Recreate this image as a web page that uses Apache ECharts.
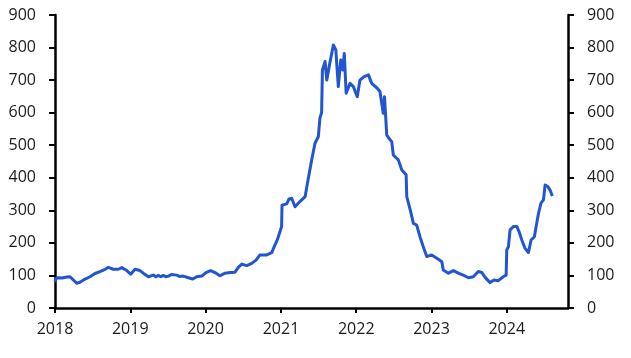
<!DOCTYPE html>
<html>
<head>
<meta charset="utf-8">
<script src="https://cdn.jsdelivr.net/npm/echarts@6/dist/echarts.min.js"></script>
<style>html,body{margin:0;padding:0;background:#fff;}#c{width:631px;height:358px;}</style>
</head>
<body>
<div id="c"></div>
<script>
var dates = ['2018-01-01','2018-01-06','2018-01-17','2018-02-04','2018-02-28','2018-03-15','2018-03-31','2018-04-16','2018-05-02','2018-05-27','2018-06-20','2018-07-14','2018-08-07','2018-09-01','2018-09-17','2018-10-11','2018-11-04','2018-11-21','2018-12-15',
'2019-01-03','2019-01-24','2019-02-17','2019-03-05','2019-03-30','2019-04-23','2019-05-05','2019-05-17','2019-05-29','2019-06-10','2019-06-22','2019-07-05','2019-07-21','2019-08-14','2019-08-28','2019-09-15','2019-10-10','2019-10-31','2019-11-19','2019-12-14',
'2020-01-03','2020-01-26','2020-02-16','2020-03-11','2020-04-05','2020-04-29','2020-05-23','2020-06-08','2020-06-25','2020-07-19','2020-08-12','2020-09-02','2020-09-21','2020-10-24','2020-11-17','2020-12-03','2020-12-14','2020-12-27',
'2021-01-04','2021-01-06','2021-01-29','2021-02-09','2021-02-22','2021-03-10','2021-04-03','2021-04-28','2021-05-14','2021-05-30','2021-06-15','2021-06-23','2021-07-01','2021-07-09','2021-07-17','2021-07-21','2021-08-03','2021-08-11','2021-08-24','2021-09-01','2021-09-12','2021-09-24','2021-10-06','2021-10-18','2021-10-28','2021-11-04','2021-11-13','2021-12-02','2021-12-18',
'2022-01-06','2022-01-19','2022-02-08','2022-03-01','2022-03-17','2022-04-13','2022-04-26','2022-05-04','2022-05-12','2022-05-18','2022-05-29','2022-06-10','2022-06-22','2022-06-30','2022-07-24','2022-08-10','2022-08-31','2022-09-03','2022-09-22','2022-10-05','2022-10-21','2022-11-06','2022-11-22','2022-12-09',
'2023-01-02','2023-01-10','2023-02-03','2023-02-20','2023-02-27','2023-03-24','2023-04-17','2023-05-11','2023-06-04','2023-06-29','2023-07-23','2023-08-16','2023-09-02','2023-09-18','2023-10-12','2023-10-31','2023-11-21','2023-12-15','2023-12-29',
'2024-01-01','2024-01-09','2024-01-17','2024-02-02','2024-02-19','2024-03-01','2024-03-14','2024-03-30','2024-04-15','2024-04-28','2024-05-14','2024-05-21','2024-06-03','2024-06-15','2024-06-27','2024-07-05','2024-07-18','2024-07-29','2024-08-09'];
var values = [80,90,93,92,95,96,86,76,79,89,96,106,112,119,125,119,119,124,115,
104,119,115,107,96,101,96,100,96,100,96,98,103,101,97,98,93,89,96,98,
109,115,109,99,107,109,110,125,135,130,137,147,163,163,170,194,209,234,
250,316,320,335,337,311,327,342,400,455,506,500,526,584,600,731,757,700,746,750,808,793,680,762,731,782,660,690,680,
649,700,711,716,690,675,665,670,598,649,531,520,511,470,455,424,409,342,296,260,255,219,188,158,
163,163,150,142,117,107,115,107,101,93,96,112,109,94,78,86,84,96,101,
178,188,240,250,250,234,209,183,170,209,219,245,291,322,332,378,373,362,344];
var yearTicks = ['2018-01-01','2019-01-01','2020-01-01','2021-01-01','2022-01-01','2023-01-01','2024-01-01'];
var xRange = ['2018-01-01','2024-10-24'];
var yTicks = [0,100,200,300,400,500,600,700,800,900];

function ts(d){return Date.parse(d+'T00:00:00Z');}
var tickTimes = yearTicks.map(ts);
var seriesData = dates.map(function(d,i){return [ts(d), values[i]];});
var lblFont = {fontFamily:'Open Sans', fontSize:16, color:'#1a1a1a'};
function yAxis(pos){
  return {type:'value', position:pos, min:yTicks[0], max:yTicks[yTicks.length-1], interval:100,
    axisLine:{show:true, lineStyle:{color:'#000', width:2.5}},
    axisTick:{show:true, length:6, lineStyle:{color:'#000', width:2}},
    splitLine:{show:false},
    axisLabel:Object.assign({margin:19}, lblFont)};
}
var chart = echarts.init(document.getElementById('c'), null, {renderer:'canvas'});
chart.setOption({
  animation:false,
  grid:{left:55, right:63, top:15, bottom:50, containLabel:false},
  xAxis:{type:'value', min:ts(xRange[0]), max:ts(xRange[1]),
    axisLine:{show:true, onZero:false, lineStyle:{color:'#000', width:2.5}},
    axisTick:{show:true, length:5, customValues:tickTimes, lineStyle:{color:'#000', width:2}},
    splitLine:{show:false},
    axisLabel:Object.assign({margin:13, customValues:tickTimes,
      formatter:function(v){return String(new Date(v).getUTCFullYear());}}, lblFont)},
  yAxis:[yAxis('left'), yAxis('right')],
  series:[{type:'line', data:seriesData, yAxisIndex:0, showSymbol:false, symbol:'none',
    lineStyle:{color:'#2156d0', width:3, join:'round'}}]
});
</script>
</body>
</html>
